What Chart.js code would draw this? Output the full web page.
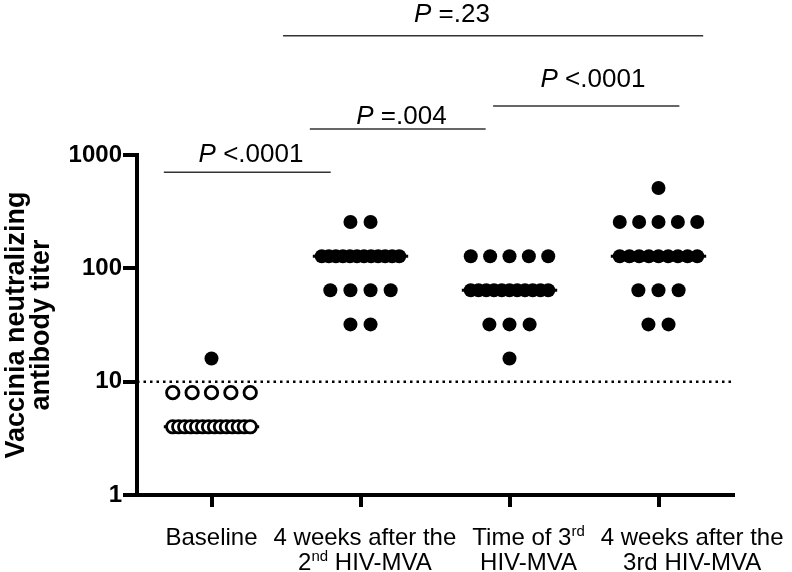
<!DOCTYPE html>
<html>
<head>
<meta charset="utf-8">
<script src="https://cdn.jsdelivr.net/npm/chart.js@4.4.0/dist/chart.umd.min.js"></script>
<style>
  html, body { margin: 0; padding: 0; background: #fff; }
  #wrap { width: 792px; height: 572px; }
</style>
</head>
<body>
<div id="wrap"><canvas id="myChart" width="792" height="572"></canvas></div>
<script>
'use strict'

// group names under the x axis, {..} is drawn as superscript
const categories = [
  ['Baseline'],
  ['4 weeks after the', '2{nd} HIV-MVA'],
  ['Time of 3{rd}', 'HIV-MVA'],
  ['4 weeks after the', '3rd HIV-MVA']
];

// titers per subject (20 per group)
const baseline = [16, 8, 8, 8, 8, 8, 4, 4, 4, 4, 4, 4, 4, 4, 4, 4, 4, 4, 4, 4];
const after2nd = [256, 256, 128, 128, 128, 128, 128, 128, 128, 128, 128, 128, 128, 128, 64, 64, 64, 64, 32, 32];
const time3rd = [128, 128, 128, 128, 128, 64, 64, 64, 64, 64, 64, 64, 64, 64, 64, 64, 32, 32, 32, 16];
const after3rd = [512, 256, 256, 256, 256, 256, 128, 128, 128, 128, 128, 128, 128, 128, 128, 64, 64, 64, 32, 32];

const yTicks = [1, 10, 100, 1000];
const cutoff = 10; // dotted line, titers under it are open circles

// comparisons between groups
const pTexts = ['<.0001', '=.004', '<.0001', '=.23'];

// where the comparison brackets sit (x in group units, y in titer units)
const brackets = [
  {from: 0.68, to: 1.80, lineAt: 704,   textX: 1.265, textAt: 862},
  {from: 1.66, to: 2.84, lineAt: 1695,  textX: 2.275, textAt: 1866},
  {from: 2.89, to: 4.14, lineAt: 2707,  textX: 3.56,  textAt: 3960},
  {from: 1.48, to: 4.30, lineAt: 11300, textX: 2.614, textAt: 15000}
];

const FONT = 'Arial, "Liberation Sans", Helvetica, sans-serif';
const GAP = 0.135;   // spacing of dots in one row
const SPAN = 0.52;   // widest a row may get
const HALF = 0.32;   // half width of the median bar

// spread equal values side by side, like a column scatter
function swarm(values, center){
    let counts = {};
    values.forEach(v => { counts[v] = (counts[v] || 0) + 1; });
    let pts = [];
    Object.keys(counts).forEach(k => {
        let n = counts[k];
        let step = n > 1 ? Math.min(GAP, SPAN / (n - 1)) : 0;
        for (let i = 0; i < n; i++){
            pts.push({x: center + (i - (n - 1) / 2) * step, y: Number(k)});
        }
    });
    return pts;
}

function median(values){
    let s = values.slice().sort((a, b) => a - b);
    let m = Math.floor(s.length / 2);
    return s.length % 2 ? s[m] : (s[m - 1] + s[m]) / 2;
}

const groups = [baseline, after2nd, time3rd, after3rd];
let filled = [];
let open = [];
let datasets = [];

groups.forEach((vals, i) => {
    let g = i + 1;
    swarm(vals, g).forEach(p => (p.y < cutoff ? open : filled).push(p));
    let m = median(vals);
    datasets.push({
        data: [{x: g - HALF, y: m}, {x: g + HALF, y: m}],
        showLine: true, borderColor: '#000', borderWidth: 3,
        pointRadius: 0, order: 2
    });
});

datasets.push({
    data: filled, backgroundColor: '#000', borderWidth: 0,
    pointRadius: 7, order: 1
});
datasets.push({
    data: open, backgroundColor: '#fff', borderColor: '#000', borderWidth: 2.8,
    pointRadius: 6.2, order: 1
});
// detection limit
datasets.push({
    data: [{x: 0.5, y: cutoff}, {x: 4.5, y: cutoff}],
    showLine: true, borderColor: '#000', borderWidth: 2.5, borderDash: [2.5, 4],
    borderCapStyle: 'butt', pointRadius: 0, order: 3
});
// comparison bars
brackets.forEach(b => {
    datasets.push({
        data: [{x: b.from, y: b.lineAt}, {x: b.to, y: b.lineAt}],
        showLine: true, borderColor: '#333', borderWidth: 1.5,
        pointRadius: 0, clip: false, order: 4
    });
});

// split '2{nd} HIV' into normal and superscript pieces
function pieces(line){
    let out = [];
    line.split(/(\{[^}]*\})/).forEach(s => {
        if (!s) return;
        if (s[0] == '{') out.push({t: s.slice(1, -1), sup: true});
        else out.push({t: s, sup: false});
    });
    return out;
}

const labelsPlugin = {
    id: 'labels',
    afterDraw(chart){
        const ctx = chart.ctx;
        const xs = chart.scales.x;
        const ys = chart.scales.y;
        const big = '24px ' + FONT;
        const small = '15px ' + FONT;
        ctx.save();
        ctx.fillStyle = '#000';
        ctx.textBaseline = 'alphabetic';

        function lineWidth(parts){
            let w = 0;
            parts.forEach(p => { ctx.font = p.sup ? small : big; w += ctx.measureText(p.t).width; });
            return w;
        }

        // x labels, pushed right when they would run into the previous one
        let prevRight = -1000;
        categories.forEach((lines, i) => {
            let parsed = lines.map(pieces);
            let widths = parsed.map(lineWidth);
            let w = Math.max.apply(null, widths);
            let cx = Math.max(xs.getPixelForValue(i + 1), prevRight + 16 + w / 2);
            prevRight = cx + w / 2;
            parsed.forEach((parts, j) => {
                let x = cx - widths[j] / 2;
                let y = 545 + j * 25;
                parts.forEach(p => {
                    ctx.font = p.sup ? small : big;
                    ctx.fillText(p.t, x, p.sup ? y - 9 : y);
                    x += ctx.measureText(p.t).width;
                });
            });
        });

        // P values above the bars
        brackets.forEach((b, i) => {
            let italic = 'italic 26px ' + FONT;
            let normal = '26px ' + FONT;
            let rest = ' ' + pTexts[i];
            ctx.font = italic;
            let w1 = ctx.measureText('P').width;
            ctx.font = normal;
            let w2 = ctx.measureText(rest).width;
            let x = xs.getPixelForValue(b.textX) - (w1 + w2) / 2;
            let y = ys.getPixelForValue(b.textAt);
            ctx.font = italic;
            ctx.fillText('P', x, y);
            ctx.font = normal;
            ctx.fillText(rest, x + w1, y);
        });
        ctx.restore();
    }
};

const config = {
    type: 'scatter',
    data: {datasets: datasets},
    options: {
        responsive: false,
        animation: false,
        events: [],
        layout: {padding: {top: 155, right: 59, left: 0, bottom: 0}},
        plugins: {legend: {display: false}, tooltip: {enabled: false}},
        scales: {
            x: {
                type: 'linear', min: 0.5, max: 4.5,
                afterBuildTicks: s => { s.ticks = categories.map((c, i) => ({value: i + 1})); },
                afterFit: s => { s.height = 77; },
                ticks: {display: false},
                grid: {drawOnChartArea: false, color: '#000', lineWidth: 4, tickLength: 12},
                border: {color: '#000', width: 4}
            },
            y: {
                type: 'logarithmic', min: 1, max: 1000,
                afterBuildTicks: s => { s.ticks = yTicks.map(v => ({value: v})); },
                afterFit: s => { s.width = 137; },
                ticks: {
                    color: '#000', padding: 1,
                    font: {family: FONT, size: 24, weight: 'bold'},
                    callback: v => String(v)
                },
                grid: {drawOnChartArea: false, color: '#000', lineWidth: 4, tickLength: 14},
                border: {color: '#000', width: 4},
                title: {
                    display: true,
                    text: ['Vaccinia neutralizing', 'antibody titer'],
                    color: '#000',
                    font: {family: FONT, size: 27, weight: 'bold', lineHeight: 0.93},
                    padding: {top: 4, bottom: 0}
                }
            }
        }
    },
    plugins: [labelsPlugin]
};

let myChart = new Chart(document.getElementById('myChart'), config);
</script>
</body>
</html>
